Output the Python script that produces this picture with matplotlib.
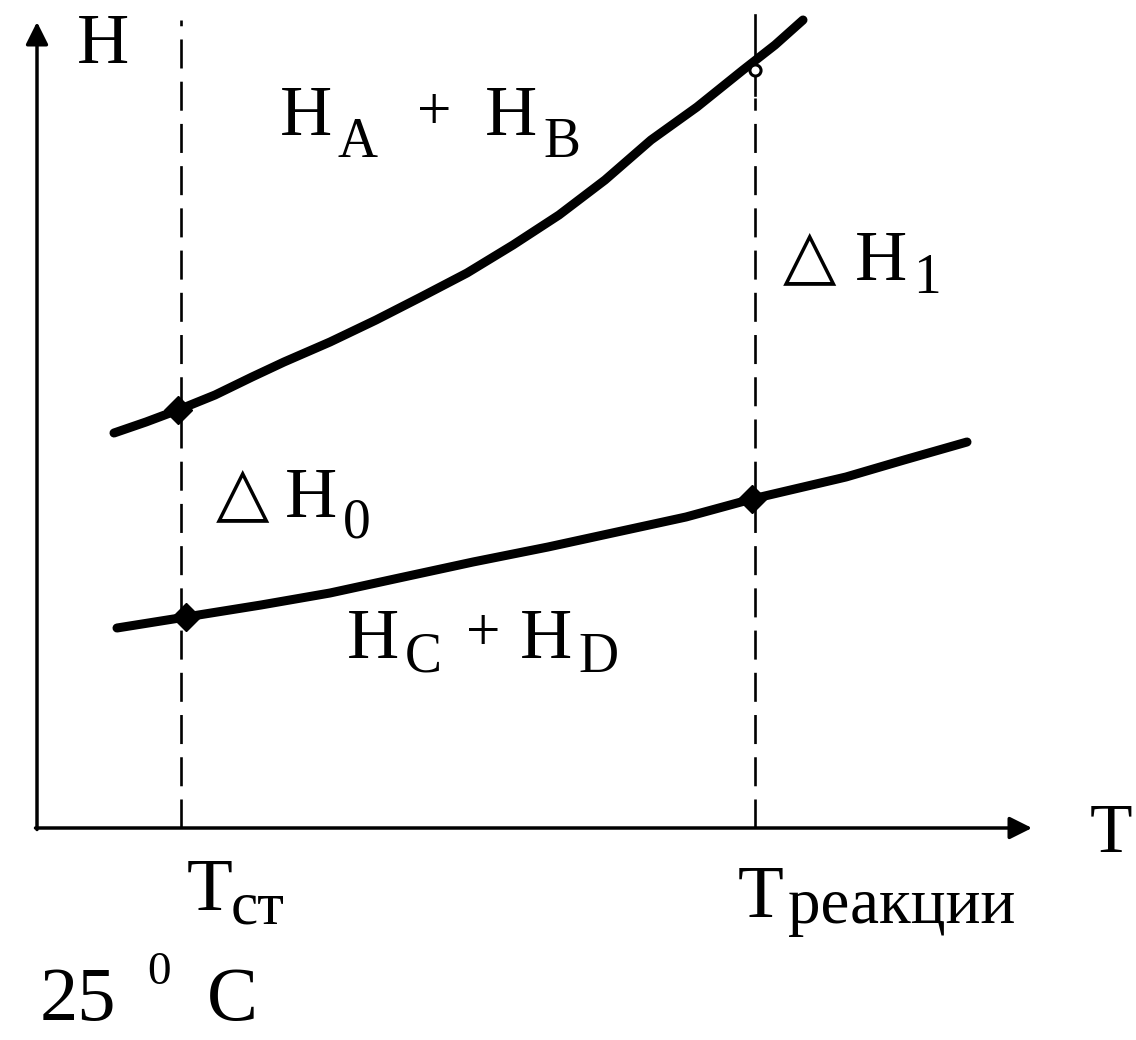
import numpy as np
import matplotlib.pyplot as plt

plt.rcParams['font.family'] = ['Liberation Serif', 'DejaVu Sans']

# enthalpy of reactants A+B vs temperature
t_react = [77, 109, 141, 178, 215, 247, 293, 339, 384, 430, 476, 522, 568,
           614, 660, 706, 738, 766]
h_react = [395, 406, 418, 433, 451, 466, 486, 508, 531, 555, 583, 613, 648,
           688, 721, 758, 783, 808]
# enthalpy of products C+D
t_prod = [80, 149, 224, 293, 362, 436, 511, 580, 649, 715, 809, 867, 930]
h_prod = [200, 211, 223, 235, 250, 266, 281, 296, 311, 329, 351, 368, 386]

# key temperatures and marked points
t_st = 144
t_r = 718
marks_t = [141, 149, 715]
marks_h = [418, 211, 329]
open_t = [t_r]
open_h = [758]

fig = plt.figure(figsize=(11.36, 10.4), dpi=100)
ax = fig.add_axes([0, 0, 1, 1])
ax.set_xlim(-37, 1099)
ax.set_ylim(-212, 828)
ax.axis('off')

# axes with arrows
arr = dict(arrowstyle='-|>', lw=2.5, color='black', mutation_scale=34,
           shrinkA=0, shrinkB=0)
ax.annotate('', xy=(0, 806), xytext=(0, -1.5), arrowprops=arr)
ax.annotate('', xy=(995, 0), xytext=(-1.5, 0), arrowprops=arr)

# dashed verticals
dash = (0, (11, 5))
ax.plot([t_st, t_st], [0, 808], ls=dash, lw=1.9, color='black')
ax.plot([t_r, t_r], [0, 730], ls=dash, lw=1.9, color='black')
ax.plot([t_r, t_r], [733, 813], lw=1.9, color='black')

# curves
ax.plot(t_react, h_react, lw=6.5, color='black', solid_capstyle='round',
        solid_joinstyle='round')
ax.plot(t_prod, h_prod, lw=6.5, color='black', solid_capstyle='round',
        solid_joinstyle='round')
ax.plot(marks_t, marks_h, 'D', ms=14, color='black', ls='none')
ax.plot(open_t, open_h, 'o', ms=8, mfc='white', mec='black', mew=2.2, ls='none')

big = 52
sub = 40
tri = 50
plus = 44

def txt(x, y, s, size, **kw):
    ax.text(x, y, s, fontsize=size, ha='left', va='baseline', **kw)

# axis names
txt(40, 765, 'H', big)
txt(1053, -24, 'T', 50)

# H_A + H_B
txt(243, 693, 'H', big)
txt(301, 671, 'A', sub)
ax.text(397, 714, '+', fontsize=plus, ha='center', va='center')
txt(448, 693, 'H', big)
txt(506, 671, 'B', sub)

# H_C + H_D
txt(310, 170, 'H', big)
txt(368, 156, 'C', sub)
ax.text(446, 193, '+', fontsize=plus, ha='center', va='center')
txt(483, 170, 'H', big)
txt(541, 156, 'D', sub)

# delta H_1
ax.text(773, 571, '△', fontsize=tri, family='DejaVu Sans', ha='center', va='center')
txt(818, 548, 'H', big)
txt(876, 535, '1', sub)

# delta H_0
ax.text(206, 334, '△', fontsize=tri, family='DejaVu Sans', ha='center', va='center')
txt(248, 311, 'H', big)
txt(306, 290, '0', sub)

# temperature labels
txt(150, -82, 'T', 54)
txt(194, -95, 'ст', 44)
txt(701, -89, 'T', 54)
txt(751, -95, 'реакции', 47)

txt(3, -192, '25', 55)
txt(110, -156, '0', 34)
txt(170, -192, 'C', 55)

fig.savefig('out.png', dpi=100, facecolor='white')
